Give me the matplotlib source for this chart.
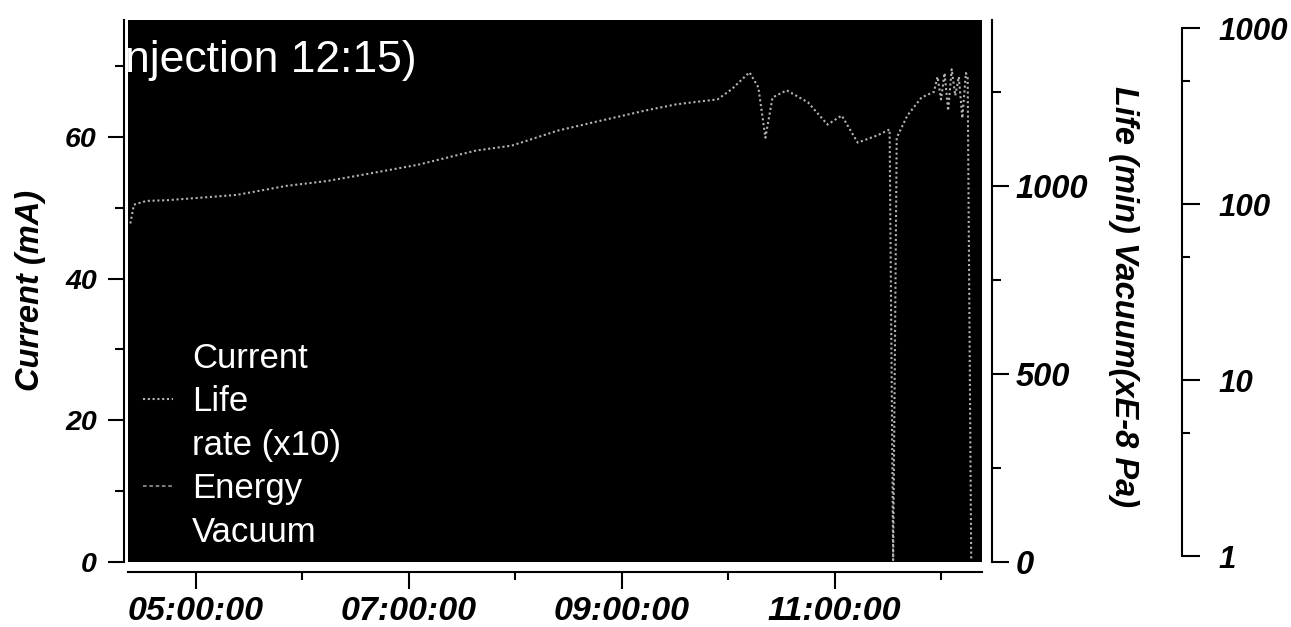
import matplotlib
matplotlib.use("Agg")
import matplotlib.pyplot as plt
import matplotlib.dates as mdates
from matplotlib.lines import Line2D
from matplotlib.ticker import FixedLocator, FuncFormatter
from matplotlib.font_manager import FontProperties
import pandas as pd

# ---- data -------------------------------------------------------------
DAY = "2000-01-01 "

life_times = [
    "04:23", "04:25", "04:32", "04:44", "05:01", "05:23", "05:51", "06:14",
    "06:31", "07:05", "07:38", "07:58", "08:24", "08:46", "09:14", "09:31",
    "09:54", "10:02", "10:12", "10:17", "10:21", "10:25", "10:33", "10:45",
    "10:56", "11:04", "11:13", "11:24", "11:31", "11:33", "11:35", "11:41",
    "11:49", "11:56", "11:58", "12:00", "12:02", "12:04", "12:06", "12:08",
    "12:10", "12:12", "12:14", "12:15", "12:17",
]
life_minutes = [
    900, 950, 960, 962, 968, 976, 1000, 1013,
    1027, 1056, 1094, 1107, 1147, 1171, 1201, 1217,
    1230, 1257, 1302, 1262, 1128, 1235, 1254, 1222,
    1163, 1187, 1115, 1134, 1150, 5, 1128, 1187,
    1235, 1250, 1290, 1230, 1300, 1200, 1310, 1240,
    1290, 1180, 1300, 1289, 5,
]

legend_labels = ["Current", "Life", "rate (x10)", "Energy", "Vacuum"]
title_text = "njection 12:15)"

time_range = ["04:21:40", "12:23:05"]
current_major = [0, 20, 40, 60]
current_minor = [10, 30, 50, 70]
current_max = 76.5
life_major = [0, 500, 1000]
life_minor = [250, 750, 1250]
life_max = 1441
log_major = [1, 10, 100, 1000]
log_minor = [5, 50, 500]

current_label = "Current (mA)"
right_label = "Life (min) Vacuum(xE-8 Pa)"

# ---- styling ----------------------------------------------------------
plt.rcParams["font.family"] = ["Liberation Sans", "DejaVu Sans"]
plt.rcParams["font.weight"] = "bold"
plt.rcParams["font.style"] = "italic"

W, H = 1291, 627
PX = 72.0 / 100.0  # points per pixel at dpi 100
LW = 1.5

fig = plt.figure(figsize=(W / 100, H / 100), dpi=100)
fig.patch.set_facecolor("white")

t = pd.to_datetime([DAY + s for s in life_times])
t0, t1 = pd.to_datetime([DAY + s for s in time_range])

# main axes: current scale (left) and time axis
ax = fig.add_axes([128 / W, 1 - 562 / H, (982 - 128) / W, (562 - 20) / H])
ax.set_facecolor("black")
ax.set_xlim(t0, t1)
ax.set_ylim(0, current_max)
for s in ("top", "right"):
    ax.spines[s].set_visible(False)
ax.spines["left"].set_position(("outward", 4 * PX))
ax.spines["bottom"].set_position(("outward", 10 * PX))
for s in ("left", "bottom"):
    ax.spines[s].set_linewidth(LW)

ax.yaxis.set_major_locator(FixedLocator(current_major))
ax.yaxis.set_minor_locator(FixedLocator(current_minor))
ax.xaxis.set_major_locator(mdates.HourLocator(byhour=[5, 7, 9, 11]))
ax.xaxis.set_minor_locator(mdates.HourLocator(byhour=[6, 8, 10, 12]))
ax.xaxis.set_major_formatter(mdates.DateFormatter("%H:%M:%S"))

ax.tick_params(axis="y", which="major", length=16 * PX, width=LW,
               labelsize=20.5, pad=8)
ax.tick_params(axis="y", which="minor", length=9 * PX, width=LW)
ax.tick_params(axis="x", which="major", length=17 * PX, width=LW,
               labelsize=24.5, pad=5)
ax.tick_params(axis="x", which="minor", length=8 * PX, width=LW)

ax.text(-0.004, (562 - 72) / 542, title_text, transform=ax.transAxes,
        color="white", fontsize=32, fontweight="normal", fontstyle="normal",
        ha="left", va="baseline", clip_on=True)

# twin axes: life / vacuum scale
ax2 = ax.twinx()
ax2.set_ylim(0, life_max)
for s in ("top", "left", "bottom"):
    ax2.spines[s].set_visible(False)
ax2.spines["right"].set_position(("outward", 10 * PX))
ax2.spines["right"].set_linewidth(LW)
ax2.yaxis.set_major_locator(FixedLocator(life_major))
ax2.yaxis.set_minor_locator(FixedLocator(life_minor))
ax2.tick_params(axis="y", which="major", length=17 * PX, width=LW,
                labelsize=23.5, pad=5)
ax2.tick_params(axis="y", which="minor", length=9 * PX, width=LW)

life_line, = ax2.plot(t, life_minutes, color="#b4b4b4", lw=1.5,
                      ls=(0, (1.0, 1.3)))

# separate logarithmic scale at far right
ax3 = fig.add_axes([1182 / W, 1 - 556 / H, 0.0001, (556 - 28) / H])
ax3.patch.set_visible(False)
for s in ("top", "left", "bottom"):
    ax3.spines[s].set_visible(False)
ax3.spines["right"].set_linewidth(LW)
ax3.set_yscale("log")
ax3.set_ylim(log_major[0], log_major[-1])
ax3.set_xticks([])
ax3.yaxis.set_ticks_position("right")
ax3.yaxis.set_major_locator(FixedLocator(log_major))
ax3.yaxis.set_minor_locator(FixedLocator(log_minor))
ax3.yaxis.set_major_formatter(FuncFormatter(lambda v, p: f"{v:.0f}"))
ax3.yaxis.set_minor_formatter(FuncFormatter(lambda v, p: ""))
ax3.tick_params(axis="y", which="major", length=18 * PX, width=LW,
                labelsize=22.5, pad=13)
ax3.tick_params(axis="y", which="minor", length=8 * PX, width=LW)

# axis titles
fig.text(31 / W, 1 - 290 / H, current_label, rotation=90, fontsize=23.5,
         ha="center", va="center")
fig.text(1123 / W, 1 - 297 / H, right_label, rotation=270, fontsize=23.5,
         ha="center", va="center")

# legend
handles = [
    Line2D([], [], color="black", lw=1.3),
    life_line,
    Line2D([], [], color="black", lw=1.3),
    Line2D([], [], color="#8a8a8a", lw=1.3, ls=(0, (2, 1.5))),
    Line2D([], [], color="black", lw=1.3),
]
leg_font = FontProperties(family=["Liberation Sans", "DejaVu Sans"], size=25,
                          weight="normal", style="normal")
ax2.legend(handles, legend_labels, loc="upper left",
           bbox_to_anchor=(143 / W, 1 - 342 / H),
           bbox_transform=fig.transFigure, frameon=False, borderpad=0,
           borderaxespad=0, handlelength=0.87, handletextpad=0.55,
           labelspacing=0.3, labelcolor="white", prop=leg_font)

fig.savefig("out.png", dpi=100, facecolor="white")
